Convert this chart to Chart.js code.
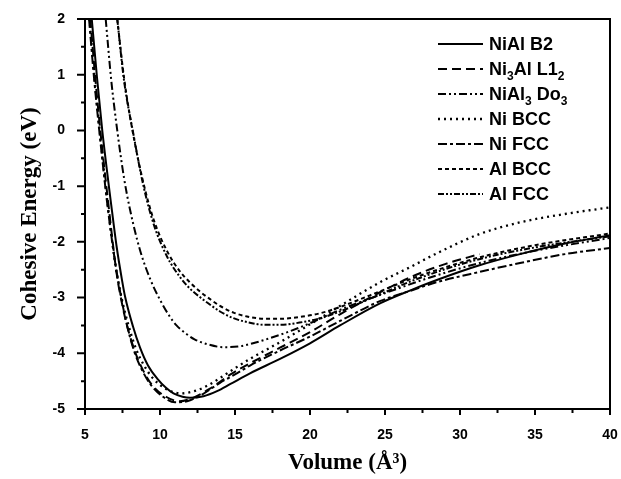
<!DOCTYPE html>
<html><head><meta charset="utf-8">
<script src="https://cdn.jsdelivr.net/npm/chart.js@4.4.0/dist/chart.umd.min.js"></script>
<style>html,body{margin:0;padding:0;background:#fff;overflow:hidden}#wrap{width:621px;height:479px}</style>
</head><body><div id="wrap"><canvas id="c" width="621" height="479"></canvas></div>
<script>
// ---- data ----
const seriesNames = ['NiAl B2', 'Ni₃Al L1₂', 'NiAl₃ Do₃', 'Ni BCC', 'Ni FCC', 'Al BCC', 'Al FCC'];

const volB2 = [5.45, 5.8, 6.15, 6.75, 7.1, 7.47, 7.67, 8.2, 8.67, 9.2, 9.8, 10.4, 10.9, 11.5, 12.0, 12.9, 13.8, 14.7, 16, 18, 20, 22, 24.7, 26.7, 28.5, 31.3, 34, 37, 40];
const eB2   = [2.0, 0.95, 0.0, -1.34, -2.07, -2.69, -2.98, -3.52, -3.90, -4.22, -4.45, -4.62, -4.72, -4.78, -4.80, -4.77, -4.68, -4.55, -4.36, -4.10, -3.82, -3.50, -3.10, -2.87, -2.68, -2.42, -2.22, -2.03, -1.88];

const volNi3Al = [5.35, 5.7, 6.02, 6.55, 7.1, 7.5, 7.9, 8.4, 8.9, 9.5, 10.4, 11.3, 12.2, 13.3, 14.7, 16, 18, 20, 22, 24.7, 27, 29, 31.3];
const eNi3Al   = [2.0, 0.9, 0.0, -1.30, -2.55, -3.15, -3.60, -4.02, -4.32, -4.58, -4.78, -4.86, -4.80, -4.64, -4.38, -4.18, -3.90, -3.62, -3.30, -2.90, -2.60, -2.40, -2.22];

const volNiAl3 = [6.38, 6.75, 7.15, 7.6, 8.0, 8.67, 9.38, 10.0, 10.6, 11.1, 11.7, 12.3, 13.2, 14.2, 15.2, 16.2, 17.2, 18.5, 20, 22, 24.7, 28, 31.3, 35, 40];
const eNiAl3   = [2.0, 0.9, 0.0, -0.85, -1.42, -2.15, -2.69, -3.04, -3.32, -3.50, -3.64, -3.75, -3.84, -3.89, -3.88, -3.82, -3.74, -3.62, -3.46, -3.22, -2.95, -2.64, -2.38, -2.16, -1.93];

const volNiBCC = [5.3, 5.65, 6.0, 6.5, 7.05, 7.5, 7.9, 8.4, 8.9, 9.5, 10.4, 11.4, 12.4, 13.3, 14.7, 16, 18, 20, 22, 24.7, 26.7, 28.5, 31.3, 34, 37, 40];
const eNiBCC   = [2.0, 0.9, -0.05, -1.30, -2.45, -3.08, -3.50, -3.92, -4.20, -4.44, -4.64, -4.72, -4.67, -4.56, -4.32, -4.10, -3.80, -3.48, -3.15, -2.72, -2.45, -2.20, -1.86, -1.65, -1.50, -1.38];

const volNiFCC = [5.27, 5.6, 5.95, 6.5, 7.0, 7.4, 7.8, 8.3, 8.8, 9.4, 10.2, 11.0, 11.8, 12.8, 14.0, 15.0, 16, 18, 20, 22, 24.7, 26.9, 28.5, 31.3, 34, 37, 40];
const eNiFCC   = [2.0, 0.95, 0.0, -1.35, -2.35, -2.98, -3.50, -3.98, -4.30, -4.57, -4.78, -4.88, -4.86, -4.74, -4.53, -4.38, -4.22, -3.95, -3.70, -3.42, -3.06, -2.86, -2.72, -2.54, -2.38, -2.22, -2.11];

const volAlBCC = [7.15, 7.6, 8.2, 8.9, 9.6, 10.5, 11.3, 12.0, 12.7, 13.4, 14.0, 14.9, 15.8, 17, 18, 19.5, 20.7, 22, 24, 27, 31, 35, 40];
const eAlBCC   = [2.0, 0.95, -0.05, -0.95, -1.62, -2.18, -2.52, -2.73, -2.90, -3.04, -3.15, -3.27, -3.34, -3.38, -3.38, -3.34, -3.28, -3.17, -2.96, -2.64, -2.30, -2.06, -1.85];

const volAlFCC = [7.15, 7.6, 8.25, 8.9, 9.6, 10.5, 11.3, 12.0, 12.7, 13.4, 14.0, 14.9, 15.8, 17, 18, 19.5, 20.7, 22, 24, 27, 31, 35, 40];
const eAlFCC   = [2.0, 0.9, -0.1, -1.0, -1.70, -2.28, -2.62, -2.84, -3.00, -3.14, -3.25, -3.37, -3.44, -3.49, -3.49, -3.44, -3.37, -3.25, -3.02, -2.68, -2.33, -2.10, -1.90];

const xTicks = [5, 10, 15, 20, 25, 30, 35, 40];
const yTicks = [-5, -4, -3, -2, -1, 0, 1, 2];

// ---- build ----
const vols = [volB2, volNi3Al, volNiAl3, volNiBCC, volNiFCC, volAlBCC, volAlFCC];
const ens  = [eB2, eNi3Al, eNiAl3, eNiBCC, eNiFCC, eAlBCC, eAlFCC];
const dashes = [[], [9, 5], [8, 3, 2, 3, 2, 3], [2, 4], [9, 3, 3, 3], [4, 3], [6, 2, 2, 2, 2, 2]];
const widths = [2, 2, 2, 2.3, 2, 2, 2];

const datasets = seriesNames.map((name, i) => ({
  label: name,
  data: vols[i].map((v, k) => ({x: v, y: ens[i][k]})),
  borderColor: '#000',
  backgroundColor: '#000',
  borderWidth: widths[i],
  borderDash: dashes[i],
  pointRadius: 0,
  fill: false,
  cubicInterpolationMode: 'monotone'
}));

const TICKFONT = {family: "'Liberation Sans', Arial, sans-serif", size: 14, weight: 'bold'};
const TITLEFONT = {family: "'Liberation Serif', 'Times New Roman', serif", size: 23, weight: 'bold'};

const framePlugin = {
  id: 'frame',
  afterDatasetsDraw(chart) {
    const {ctx, chartArea: a, scales: {x, y}} = chart;
    ctx.save();
    ctx.strokeStyle = '#000';
    ctx.lineWidth = 2;
    ctx.setLineDash([]);
    ctx.strokeRect(a.left, a.top, a.right - a.left, a.bottom - a.top);
    ctx.beginPath();
    for (let i = 0; i < xTicks.length; i++) {
      const px = x.getPixelForValue(xTicks[i]);
      ctx.moveTo(px, a.bottom); ctx.lineTo(px, a.bottom + 6);
      if (i < xTicks.length - 1) {
        const pm = x.getPixelForValue((xTicks[i] + xTicks[i + 1]) / 2);
        ctx.moveTo(pm, a.bottom); ctx.lineTo(pm, a.bottom + 4);
      }
    }
    for (let i = 0; i < yTicks.length; i++) {
      const py = y.getPixelForValue(yTicks[i]);
      ctx.moveTo(a.left, py); ctx.lineTo(a.left - 8, py);
      if (i < yTicks.length - 1) {
        const pm = y.getPixelForValue((yTicks[i] + yTicks[i + 1]) / 2);
        ctx.moveTo(a.left, pm); ctx.lineTo(a.left - 4, pm);
      }
    }
    ctx.stroke();
    ctx.restore();
  }
};

const SUBS = '₀₁₂₃₄₅₆₇₈₉';
const legendPlugin = {
  id: 'refLegend',
  afterDraw(chart) {
    const ctx = chart.ctx;
    ctx.save();
    chart.data.datasets.forEach((ds, i) => {
      const yy = 44 + i * 25;
      ctx.beginPath();
      ctx.setLineDash(ds.borderDash);
      ctx.lineWidth = ds.borderWidth;
      ctx.strokeStyle = '#000';
      ctx.moveTo(438, yy); ctx.lineTo(483, yy);
      ctx.stroke();
      ctx.setLineDash([]);
      ctx.fillStyle = '#000';
      ctx.textBaseline = 'alphabetic';
      ctx.textAlign = 'left';
      let xx = 489;
      const base = yy + 6;
      for (const ch of ds.label) {
        const si = SUBS.indexOf(ch);
        if (si >= 0) {
          ctx.font = "bold 12px 'Liberation Sans', Arial, sans-serif";
          ctx.fillText(String(si), xx, base + 5);
          xx += ctx.measureText(String(si)).width;
        } else {
          ctx.font = "bold 18px 'Liberation Sans', Arial, sans-serif";
          ctx.fillText(ch, xx, base);
          xx += ctx.measureText(ch).width;
        }
      }
    });
    ctx.restore();
  }
};

new Chart(document.getElementById('c'), {
  type: 'line',
  data: {datasets},
  options: {
    responsive: false,
    animation: false,
    devicePixelRatio: 1,
    layout: {padding: {top: 19, right: 11, left: 0, bottom: 0}},
    plugins: {legend: {display: false}, tooltip: {enabled: false}},
    scales: {
      x: {
        type: 'linear', min: 5, max: 40,
        afterFit: s => { s.height = 70; s.paddingLeft = 0; s.paddingRight = 0; },
        grid: {display: false},
        border: {display: false},
        ticks: {stepSize: 5, color: '#000', font: TICKFONT, padding: 10, maxRotation: 0},
        title: {display: true, text: 'Volume (Å³)', color: '#000', font: TITLEFONT, padding: {top: 0, bottom: 2}}
      },
      y: {
        type: 'linear', min: -5, max: 2,
        afterFit: s => { s.width = 85; s.paddingTop = 0; s.paddingBottom = 0; },
        grid: {display: false},
        border: {display: false},
        ticks: {stepSize: 1, color: '#000', font: TICKFONT, padding: 12},
        title: {display: true, text: 'Cohesive Energy (eV)', color: '#000', font: TITLEFONT, padding: {top: 16, bottom: 0}}
      }
    }
  },
  plugins: [framePlugin, legendPlugin]
});
</script>
</body></html>
